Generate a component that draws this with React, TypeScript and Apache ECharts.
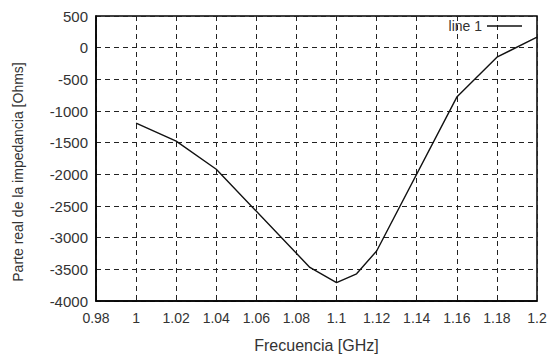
import React, { useEffect, useRef } from "react";
import * as echarts from "echarts";

const freqGHz = [1.0, 1.02, 1.04, 1.0867, 1.1, 1.11, 1.12, 1.16, 1.18, 1.2];
const realOhms = [-1190, -1475, -1920, -3470, -3710, -3570, -3210, -780, -150, 165];
const seriesName = "line 1";
const xAxisTitle = "Frecuencia [GHz]";
const yAxisTitle = "Parte real de la impedancia [Ohms]";

const FONT = "Liberation Sans";

export default function App() {
  const ref = useRef<HTMLDivElement>(null);
  useEffect(() => {
    if (!ref.current) return;
    const chart = echarts.init(ref.current, undefined, { renderer: "svg" });
    const data = freqGHz.map((x, i) => [x, realOhms[i]]);
    chart.setOption({
      animation: false,
      backgroundColor: "#ffffff",
      textStyle: { fontFamily: FONT },
      grid: {
        left: 96,
        right: 13,
        top: 16,
        bottom: 56,
        show: true,
        borderColor: "#000",
        borderWidth: 1.5,
        backgroundColor: "transparent",
      },
      legend: {
        show: true,
        data: [{ name: seriesName, icon: "rect" }],
        right: 28,
        top: 19,
        padding: 0,
        align: "right",
        itemWidth: 35,
        itemHeight: 1.5,
        itemStyle: { color: "#111" },
        textStyle: { fontFamily: FONT, fontSize: 14, color: "#333" },
      },
      xAxis: {
        type: "value",
        min: 0.98,
        max: 1.2,
        interval: 0.02,
        name: xAxisTitle,
        nameLocation: "middle",
        nameGap: 36,
        nameTextStyle: { fontFamily: FONT, fontSize: 16, color: "#333" },
        axisLine: { show: true, onZero: false, lineStyle: { color: "#000", width: 1.5 } },
        axisTick: { show: false },
        axisLabel: {
          fontFamily: FONT,
          fontSize: 14,
          color: "#333",
          margin: 10,
          formatter: (v: number) => String(parseFloat(v.toFixed(2))),
        },
        splitLine: { show: true, lineStyle: { color: "#222", type: [5, 4], width: 1 } },
      },
      yAxis: {
        type: "value",
        min: -4000,
        max: 500,
        interval: 500,
        axisLine: { show: true, onZero: false, lineStyle: { color: "#000", width: 1.5 } },
        axisTick: { show: false },
        axisLabel: {
          fontFamily: FONT,
          fontSize: 15,
          color: "#333",
          margin: 8,
          formatter: (v: number) => String(v),
        },
        splitLine: { show: true, lineStyle: { color: "#222", type: [5, 4], width: 1 } },
      },
      graphic: [
        {
          type: "text",
          x: 18,
          y: 172,
          rotation: Math.PI / 2,
          style: {
            text: yAxisTitle,
            fontFamily: FONT,
            fontSize: 14,
            fill: "#333",
            align: "center",
            verticalAlign: "middle",
          },
        },
      ],
      series: [
        {
          name: seriesName,
          type: "line",
          data,
          symbol: "none",
          showSymbol: false,
          lineStyle: { color: "#111", width: 1.4 },
          itemStyle: { color: "#111" },
        },
      ],
    });
    return () => chart.dispose();
  }, []);
  return <div ref={ref} style={{ width: 550, height: 358, position: "absolute", left: 0, top: 0 }} />;
}
